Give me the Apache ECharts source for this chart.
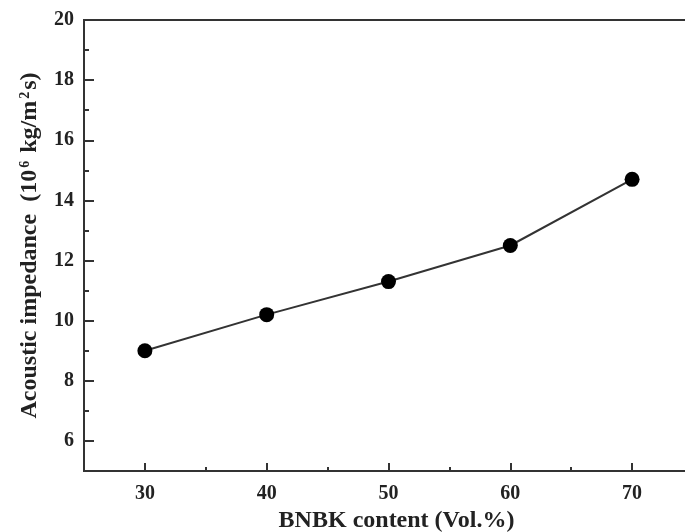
<!DOCTYPE html>
<html>
<head>
<meta charset="utf-8">
<script src="https://cdn.jsdelivr.net/npm/echarts@6/dist/echarts.min.js"></script>
<style>
  html, body { margin: 0; padding: 0; background: #fff; }
  #chart { width: 685px; height: 532px; }
</style>
</head>
<body>
<div id="chart"></div>
<script>
// BNBK volume fraction (Vol.%) and measured acoustic impedance (10^6 kg/m^2 s)
const bnbkContent = [30, 40, 50, 60, 70];
const acousticImpedance = [9.0, 10.2, 11.3, 12.5, 14.7];

// tick positions on both axes
const xMajorTicks = [30, 40, 50, 60, 70];
const xMinorTicks = [35, 45, 55, 65];
const yMajorTicks = [6, 8, 10, 12, 14, 16, 18, 20];
const yMinorTicks = [7, 9, 11, 13, 15, 17, 19];

const font = '"Liberation Serif", "Times New Roman", serif';
const ink = '#333';
const text = '#222';
const X_MIN = 25, X_MAX = 75, Y_MIN = 5, Y_MAX = 20;

const tickLabel = { fontFamily: font, fontWeight: 'bold', fontSize: 20, color: text };
const nameStyle = { fontFamily: font, fontWeight: 'bold', fontSize: 24, color: text };

const chart = echarts.init(document.getElementById('chart'));
chart.setOption({
  animation: false,
  grid: {
    left: 84, top: 20, width: 609, height: 451,
    outerBoundsMode: 'none',
    show: true, borderColor: ink, borderWidth: 2, backgroundColor: 'transparent'
  },
  xAxis: [{
    type: 'value', min: X_MIN, max: X_MAX, position: 'bottom', offset: 0,
    name: 'BNBK content (Vol.%)', nameLocation: 'middle', nameGap: 34,
    nameTextStyle: Object.assign({ padding: [0, 0, 0, 16] }, nameStyle),
    axisLine: { show: true, lineStyle: { color: ink, width: 2 } },
    axisTick: { show: true, inside: true, length: 8, customValues: xMajorTicks,
      lineStyle: { color: ink, width: 2 } },
    axisLabel: Object.assign({ margin: 13, customValues: xMajorTicks }, tickLabel),
    splitLine: { show: false }
  }, {
    type: 'value', min: X_MIN, max: X_MAX, position: 'bottom', offset: 0,
    axisLine: { show: false },
    axisTick: { show: true, inside: true, length: 4, customValues: xMinorTicks,
      lineStyle: { color: ink, width: 2 } },
    axisLabel: { show: false },
    splitLine: { show: false }
  }],
  yAxis: [{
    type: 'value', min: Y_MIN, max: Y_MAX, position: 'left', offset: 0,
    name: '{n|Acoustic impedance  (10}{s|6}{n| kg/m}{s|2}{n|s)}',
    nameLocation: 'middle', nameGap: 42,
    nameTextStyle: {
      rich: {
        n: nameStyle,
        s: { fontFamily: font, fontWeight: 'bold', fontSize: 14, color: text,
          verticalAlign: 'top', padding: [0, 2, 10, 2] }
      }
    },
    axisLine: { show: true, lineStyle: { color: ink, width: 2 } },
    axisTick: { show: true, inside: true, length: 10, customValues: yMajorTicks,
      lineStyle: { color: ink, width: 2 } },
    axisLabel: Object.assign({ margin: 10, customValues: yMajorTicks }, tickLabel),
    splitLine: { show: false }
  }, {
    type: 'value', min: Y_MIN, max: Y_MAX, position: 'left', offset: 0,
    axisLine: { show: false },
    axisTick: { show: true, inside: true, length: 5, customValues: yMinorTicks,
      lineStyle: { color: ink, width: 2 } },
    axisLabel: { show: false },
    splitLine: { show: false }
  }],
  series: [{
    type: 'line',
    xAxisIndex: 0, yAxisIndex: 0,
    data: bnbkContent.map((x, i) => [x, acousticImpedance[i]]),
    symbol: 'circle', symbolSize: 15,
    itemStyle: { color: '#000' },
    lineStyle: { color: ink, width: 2 }
  }]
});
</script>
</body>
</html>
